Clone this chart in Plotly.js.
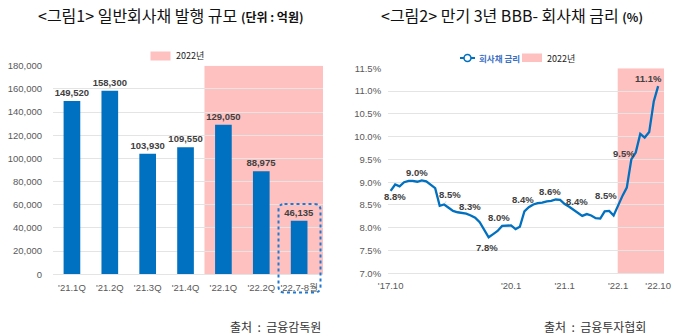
<!DOCTYPE html>
<html><head><meta charset="utf-8">
<script src="https://cdn.plot.ly/plotly-3.0.1.min.js"></script>
<style>html,body{margin:0;padding:0;background:#fff}#chart{width:698px;height:335px}</style>
</head><body><div id="chart"></div>
<script>
// ---- data: chart 1 ----
const quarters = ["'21.1Q", "'21.2Q", "'21.3Q", "'21.4Q", "'22.1Q", "'22.2Q", "'22.7-8월"];
const issuance = [149520, 158300, 103930, 109550, 129050, 88975, 46135];
const highlightFrom = 3.5; // 2022 starts between '21.4Q and '22.1Q

// ---- data: chart 2 ----
const rateStartYear = 2017, rateStartMonth = 10;
const rates = [8.81, 8.95, 8.91, 9.00, 9.03, 9.03, 9.01, 9.04, 9.02, 8.95,
               8.87, 8.48, 8.51, 8.44, 8.37, 8.34, 8.33, 8.31, 8.27, 8.22,
               8.12, 7.97, 7.79, 7.86, 7.93, 8.04, 8.05, 8.05, 7.97, 8.02,
               8.36, 8.45, 8.51, 8.54, 8.55, 8.58, 8.59, 8.62, 8.61, 8.52,
               8.46, 8.40, 8.32, 8.26, 8.30, 8.27, 8.21, 8.20, 8.36, 8.37,
               8.27, 8.50, 8.71, 8.88, 9.50, 9.65, 10.06, 9.98, 10.10, 10.77,
               11.11];
const rateTickDates = ['2017-10-01', '2020-01-01', '2021-01-01', '2022-01-01', '2022-10-01'];
const rateTickText = ["'17.10", "'20.1", "'21.1", "'22.1", "'22.10"];
const rateLabelIdx = [0, 7, 12, 17, 22, 25, 30, 36, 41, 51, 54, 60];

// ---- styles ----
const W = 698, H = 335;
const BLUE = '#0070C0', PINK = '#FFC0C0', GRID = '#E4E4E4', TICK = '#595959', LBL = '#404040';
const NUMFONT = 'Liberation Sans, Arial, Noto Sans CJK KR, sans-serif';
const KFONT = 'Noto Sans CJK KR, sans-serif';
const px = x => x / W, py = y => 1 - y / H;
// label offsets [xshift, yshift, arrow?]
const labelOffsets = [[4, -6], [-5, 8], [6, -10, true], [4, 7], [-2, -10], [-3, 8], [-1, 12], [-1, 9], [4, 8], [-12, -9, true], [-7, 6], [-10, 8]];

const months = rates.map((_, i) => {
  const d = new Date(Date.UTC(rateStartYear, rateStartMonth - 1 + i, 1));
  return d.toISOString().slice(0, 10);
});

const traces = [
  {
    type: 'bar', x: quarters, y: issuance, xaxis: 'x', yaxis: 'y',
    marker: {color: BLUE}, width: 0.44,
    text: issuance.map(v => v.toLocaleString('en-US')), textposition: 'outside',
    constraintext: 'none',
    textfont: {family: NUMFONT, size: 9.5, color: LBL, weight: 'bold'},
    cliponaxis: false, showlegend: false, hoverinfo: 'skip'
  },
  {
    type: 'scatter', mode: 'lines', x: months, y: rates, xaxis: 'x2', yaxis: 'y2',
    line: {color: BLUE, width: 2.3}, showlegend: false, hoverinfo: 'skip'
  }
];

function roundRectPath(x0, y0, x1, y1, r) {
  const P = (x, y) => px(x).toFixed(5) + ',' + py(y).toFixed(5);
  const rx = r;
  return 'M' + P(x0 + rx, y0) + ' L' + P(x1 - rx, y0) + ' Q' + P(x1, y0) + ' ' + P(x1, y0 + rx) +
    ' L' + P(x1, y1 - rx) + ' Q' + P(x1, y1) + ' ' + P(x1 - rx, y1) +
    ' L' + P(x0 + rx, y1) + ' Q' + P(x0, y1) + ' ' + P(x0, y1 - rx) +
    ' L' + P(x0, y0 + rx) + ' Q' + P(x0, y0) + ' ' + P(x0 + rx, y0) + ' Z';
}

const shapes = [
  {type: 'rect', xref: 'x', yref: 'y', x0: highlightFrom, x1: 6.63, y0: 0, y1: 180000,
   fillcolor: PINK, line: {width: 0}, layer: 'below'},
  {type: 'rect', xref: 'x2', yref: 'y2', x0: '2021-12-29', x1: '2022-11-10', y0: 7, y1: 11.5,
   fillcolor: PINK, line: {width: 0}, layer: 'below'},
  {type: 'path', xref: 'paper', yref: 'paper', path: roundRectPath(278.5, 204, 320.5, 292.5, 6),
   line: {color: '#1F78D1', width: 2, dash: 'dot'}, fillcolor: 'rgba(0,0,0,0)'},
  {type: 'rect', xref: 'paper', yref: 'paper', x0: px(150.5), x1: px(170.5), y0: py(60.5), y1: py(51.5),
   fillcolor: PINK, line: {width: 0}},
  {type: 'line', xref: 'paper', yref: 'paper', x0: px(460), x1: px(475), y0: py(58), y1: py(58),
   line: {color: BLUE, width: 2}},
  {type: 'circle', xref: 'paper', yref: 'paper', x0: px(464), x1: px(471), y0: py(61.5), y1: py(54.5),
   fillcolor: '#fff', line: {color: BLUE, width: 1.5}},
  {type: 'rect', xref: 'paper', yref: 'paper', x0: px(522), x1: px(542), y0: py(62), y1: py(53.5),
   fillcolor: PINK, line: {width: 0}}
];

const annotations = [
  {xref: 'paper', yref: 'paper', x: px(170.5), y: py(15), showarrow: false, xanchor: 'center', yanchor: 'middle',
   text: '&lt;그림1&gt; 일반회사채 발행 규모 <b><span style="font-size:12px">(단위&nbsp;:&nbsp;억원)</span></b>',
   font: {family: KFONT, size: 16, color: '#111'}},
  {xref: 'paper', yref: 'paper', x: px(511.5), y: py(15), showarrow: false, xanchor: 'center', yanchor: 'middle',
   text: '&lt;그림2&gt; 만기 3년 BBB- 회사채 금리 <b><span style="font-size:12px">(%)</span></b>',
   font: {family: KFONT, size: 16, color: '#111'}},
  {xref: 'paper', yref: 'paper', x: px(174), y: py(56), showarrow: false, xanchor: 'left', yanchor: 'middle',
   text: '2022년', font: {family: KFONT, size: 9, color: '#222'}},
  {xref: 'paper', yref: 'paper', x: px(477), y: py(58), showarrow: false, xanchor: 'left', yanchor: 'middle',
   text: '<b>회사채 금리</b>', font: {family: KFONT, size: 8.5, color: '#3A6FC4'}},
  {xref: 'paper', yref: 'paper', x: px(545), y: py(58), showarrow: false, xanchor: 'left', yanchor: 'middle',
   text: '2022년', font: {family: KFONT, size: 9, color: '#222'}},
  {xref: 'paper', yref: 'paper', x: px(275.5), y: py(326), showarrow: false, xanchor: 'center', yanchor: 'middle',
   text: '출처&nbsp;&nbsp;:&nbsp;&nbsp;금융감독원', font: {family: KFONT, size: 12, color: '#333'}},
  {xref: 'paper', yref: 'paper', x: px(595), y: py(326), showarrow: false, xanchor: 'center', yanchor: 'middle',
   text: '출처&nbsp;&nbsp;:&nbsp;&nbsp;금융투자협회', font: {family: KFONT, size: 12, color: '#333'}}
];

rateLabelIdx.forEach((idx, k) => {
  const o = labelOffsets[k];
  const a = {
    xref: 'x2', yref: 'y2', x: months[idx], y: rates[idx],
    text: rates[idx].toFixed(1) + '%',
    font: {family: NUMFONT, size: 9.5, color: LBL, weight: 'bold'}
  };
  if (o[2]) {
    Object.assign(a, {showarrow: true, ax: o[0], ay: o[1], arrowhead: 0, arrowwidth: 0.8,
      arrowcolor: '#BFBFBF', standoff: 2});
  } else {
    Object.assign(a, {showarrow: false, xshift: o[0], yshift: o[1]});
  }
  annotations.push(a);
});

const layout = {
  width: W, height: H, margin: {l: 0, r: 0, t: 0, b: 0},
  paper_bgcolor: '#fff', plot_bgcolor: 'rgba(0,0,0,0)', showlegend: false,
  font: {family: NUMFONT, color: TICK, size: 9.5},
  xaxis: {domain: [px(53), px(323)], anchor: 'y', type: 'category', range: [-0.5, 6.63],
    showgrid: false, zeroline: false, showline: true, linecolor: GRID, linewidth: 1,
    ticks: 'outside', ticklen: 4, tickcolor: 'rgba(0,0,0,0)',
    tickfont: {family: NUMFONT, size: 9.5, color: TICK}, fixedrange: true},
  yaxis: {domain: [py(274.3), py(65.7)], anchor: 'x', range: [0, 180000], dtick: 20000,
    tickformat: ',d', showgrid: true, gridcolor: GRID, gridwidth: 1, zeroline: false, showline: false,
    ticks: 'outside', ticklen: 8, tickcolor: 'rgba(0,0,0,0)',
    tickfont: {family: NUMFONT, size: 9.5, color: TICK}, fixedrange: true},
  xaxis2: {domain: [px(388), px(664)], anchor: 'y2', type: 'date', range: ['2017-09-13', '2022-11-10'],
    tickvals: rateTickDates, ticktext: rateTickText, showgrid: false, zeroline: false,
    showline: true, linecolor: GRID, linewidth: 1,
    ticks: 'outside', ticklen: 3, tickcolor: 'rgba(0,0,0,0)',
    tickfont: {family: NUMFONT, size: 9.5, color: TICK}, fixedrange: true},
  yaxis2: {domain: [py(273.3), py(68.3)], anchor: 'x2', range: [7, 11.5], dtick: 0.5,
    tickformat: '.1f', ticksuffix: '%', showgrid: true, gridcolor: GRID, gridwidth: 1,
    zeroline: false, showline: false,
    ticks: 'outside', ticklen: 4, tickcolor: 'rgba(0,0,0,0)',
    tickfont: {family: NUMFONT, size: 9.5, color: TICK}, fixedrange: true},
  shapes: shapes, annotations: annotations
};

Plotly.newPlot('chart', traces, layout, {displayModeBar: false, staticPlot: true});
</script>
</body></html>
